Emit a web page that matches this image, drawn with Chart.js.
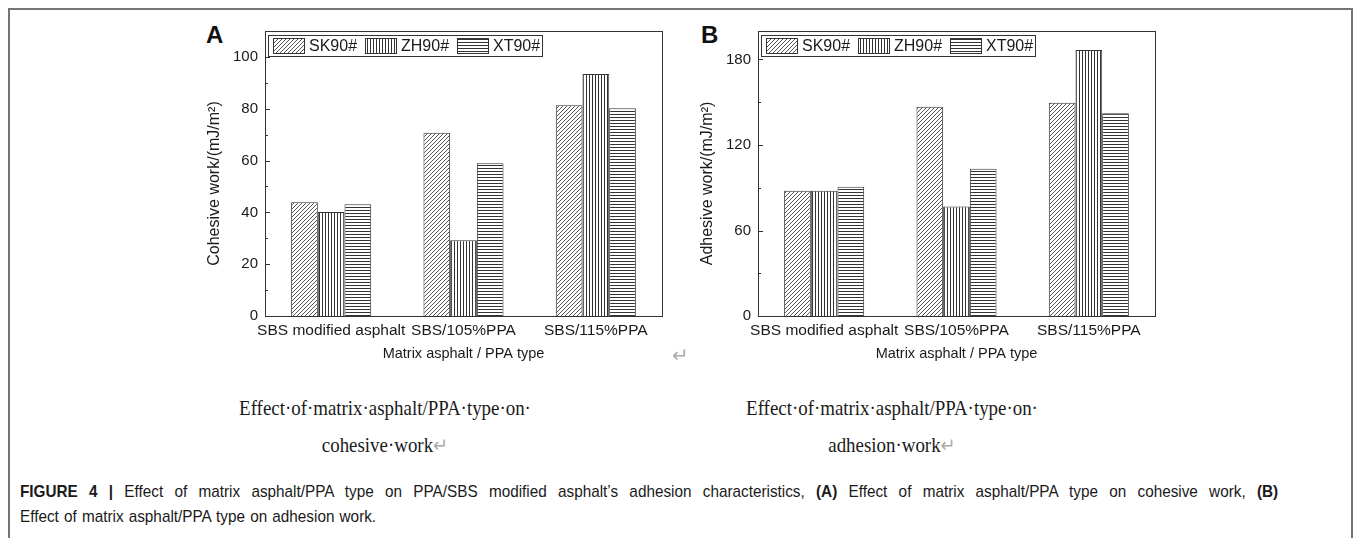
<!DOCTYPE html>
<html>
<head>
<meta charset="utf-8">
<script src="https://cdn.jsdelivr.net/npm/chart.js@4.4.0/dist/chart.umd.min.js"></script>
<style>
  html, body { margin: 0; padding: 0; background: #fff; }
  body { width: 1356px; height: 538px; position: relative; overflow: hidden; font-family: "Liberation Sans", Arial, sans-serif; }
  #frame { position: absolute; left: 8px; top: 8px; width: 1341px; height: 600px; border: 2px solid #747474; }
  .plot { position: absolute; top: 15px; }
  .letter { position: absolute; top: 21px; font: bold 24px "Liberation Sans", Arial, sans-serif; color: #111; }
  .sub { position: absolute; width: 400px; text-align: center; font-family: "Liberation Serif", "Times New Roman", serif; font-size: 21px; line-height: 37px; color: #1a1a1a; white-space: nowrap; transform: scaleX(0.9); }
  .mark { color: #aaa; font-family: "DejaVu Sans", sans-serif; font-size: 20px; }
  #caption { position: absolute; left: 20px; top: 479px; width: 1398px; font-size: 17px; line-height: 25px; color: #1a1a1a; transform: scaleX(0.9); transform-origin: 0 0; }
  #caption .l1 { text-align: justify; text-align-last: justify; white-space: nowrap; }
  #caption .l2 { word-spacing: 1px; }
  #caption b { font-weight: bold; }
</style>
</head>
<body>
<div id="frame"></div>

<div class="letter" style="left:206px">A</div>
<div class="letter" style="left:701px">B</div>

<canvas id="chartA" class="plot" style="left:190px" width="480" height="360"></canvas>
<canvas id="chartB" class="plot" style="left:683px" width="480" height="360"></canvas>

<div class="mark" style="position:absolute;left:672px;top:343px">↵</div>

<div class="sub" style="left:185px;top:390px">Effect·of·matrix·asphalt/PPA·type·on·<br>cohesive·work<span class="mark">↵</span></div>
<div class="sub" style="left:692px;top:390px">Effect·of·matrix·asphalt/PPA·type·on·<br>adhesion·work<span class="mark">↵</span></div>

<div id="caption">
  <div class="l1"><b>FIGURE 4 |</b> Effect of matrix asphalt/PPA type on PPA/SBS modified asphalt’s adhesion characteristics, <b>(A)</b> Effect of matrix asphalt/PPA type on cohesive work, <b>(B)</b></div>
  <div class="l2">Effect of matrix asphalt/PPA type on adhesion work.</div>
</div>

<script>
// Catégories et séries
const categories = ['SBS modified asphalt', 'SBS/105%PPA', 'SBS/115%PPA'];
const seriesNames = ['SK90#', 'ZH90#', 'XT90#'];

// (A) travail de cohésion
const cohesiveSK = [43.9, 70.7, 81.3];
const cohesiveZH = [40.1, 29.2, 93.4];
const cohesiveXT = [43.1, 59.0, 80.2];
const cohesiveTicks = [0, 20, 40, 60, 80, 100];

// (B) travail d'adhésion
const adhesiveSK = [87.9, 146.9, 149.6];
const adhesiveZH = [87.9, 76.8, 186.6];
const adhesiveXT = [90.7, 103.3, 142.3];
const adhesiveTicks = [0, 60, 120, 180];

Chart.defaults.font.family = '"Liberation Sans", Arial, sans-serif';
Chart.defaults.color = '#1a1a1a';

// Motifs de hachures
function makePattern(kind) {
  const c = document.createElement('canvas');
  const s = kind === 'diag' ? 4 : 3;
  c.width = s; c.height = s;
  const g = c.getContext('2d');
  g.fillStyle = '#fff';
  g.fillRect(0, 0, s, s);
  if (kind === 'diag') {
    g.strokeStyle = '#555';
    g.lineWidth = 1;
    g.beginPath();
    g.moveTo(0, s); g.lineTo(s, 0);
    g.moveTo(-1, 1); g.lineTo(1, -1);
    g.moveTo(s - 1, s + 1); g.lineTo(s + 1, s - 1);
    g.stroke();
  } else if (kind === 'vert') {
    g.fillStyle = '#333';
    g.fillRect(0, 0, 1, s);
  } else {
    g.fillStyle = '#333';
    g.fillRect(0, 0, s, 1);
  }
  return g.createPattern(c, 'repeat');
}
const patterns = [makePattern('diag'), makePattern('vert'), makePattern('horiz')];

// Cadre, graduations intérieures, titre Y et légende
const decor = {
  id: 'decor',
  afterDraw(chart) {
    const { ctx, chartArea: a } = chart;
    const y = chart.scales.y;
    ctx.save();
    ctx.strokeStyle = '#333';
    ctx.lineWidth = 1;
    ctx.strokeRect(a.left + 0.5, a.top + 0.5, a.width, a.height);

    y.ticks.forEach(t => {
      const py = Math.round(y.getPixelForValue(t.value)) + 0.5;
      const len = t.label !== '' ? 5 : 3;
      ctx.beginPath();
      ctx.moveTo(a.left, py);
      ctx.lineTo(a.left + len, py);
      ctx.stroke();
    });

    // titre de l'axe Y (un peu plus bas que le centre, comme l'original)
    ctx.save();
    ctx.translate(a.left - 50, (a.top + a.bottom) / 2 + 10);
    ctx.rotate(-Math.PI / 2);
    ctx.fillStyle = '#1a1a1a';
    ctx.font = '16px "Liberation Sans", Arial, sans-serif';
    ctx.textAlign = 'center';
    ctx.textBaseline = 'middle';
    ctx.fillText(chart.options.yTitleText, 0, 0);
    ctx.restore();

    const lx = a.left + 3, ly = a.top + 4;
    ctx.fillStyle = '#fff';
    ctx.fillRect(lx, ly, 274, 21);
    ctx.strokeRect(lx + 0.5, ly + 0.5, 274, 21);
    chart.data.datasets.forEach((ds, i) => {
      const sx = lx + 5 + i * 92;
      ctx.fillStyle = ds.backgroundColor;
      ctx.fillRect(sx, ly + 3, 31, 16);
      ctx.strokeRect(sx + 0.5, ly + 3.5, 31, 15);
      ctx.fillStyle = '#1a1a1a';
      ctx.font = '16px "Liberation Sans", Arial, sans-serif';
      ctx.textBaseline = 'middle';
      ctx.fillText(ds.label, sx + 36, ly + 11.5);
    });
    ctx.restore();
  }
};

function makeChart(id, sk, zh, xt, maxY, step, tickLabels, yTitle) {
  const values = [sk, zh, xt];
  return new Chart(document.getElementById(id), {
    type: 'bar',
    data: {
      labels: categories,
      datasets: values.map((data, i) => ({
        label: seriesNames[i],
        data: data,
        backgroundColor: patterns[i],
        borderColor: '#333',
        borderWidth: 1,
        categoryPercentage: 0.605,
        barPercentage: 1
      }))
    },
    options: {
      responsive: false,
      animation: false,
      devicePixelRatio: 1,
      yTitleText: yTitle,
      layout: { padding: { top: 10, right: 8, left: 0, bottom: 0 } },
      plugins: { legend: { display: false }, tooltip: { enabled: false } },
      scales: {
        x: {
          grid: { display: false, drawTicks: false, tickLength: 0 },
          border: { display: false },
          ticks: { font: { size: 15.5 }, padding: 5, maxRotation: 0, autoSkip: false },
          title: { display: true, text: 'Matrix asphalt / PPA type', font: { size: 14.5 }, padding: { top: 0, bottom: 12 } },
          afterFit: s => { s.height = 59; }
        },
        y: {
          min: 0,
          max: maxY,
          grid: { display: false, drawTicks: false, tickLength: 0 },
          border: { display: false },
          ticks: {
            stepSize: step,
            includeBounds: false,
            padding: 7,
            font: { size: 15 },
            callback: v => tickLabels.includes(v) ? v : ''
          },
          afterFit: s => { s.width = 75; }
        }
      }
    },
    plugins: [decor]
  });
}

makeChart('chartA', cohesiveSK, cohesiveZH, cohesiveXT, 110, 10, cohesiveTicks, 'Cohesive work/(mJ/m²)');
makeChart('chartB', adhesiveSK, adhesiveZH, adhesiveXT, 200, 30, adhesiveTicks, 'Adhesive work/(mJ/m²)');
</script>
</body>
</html>
